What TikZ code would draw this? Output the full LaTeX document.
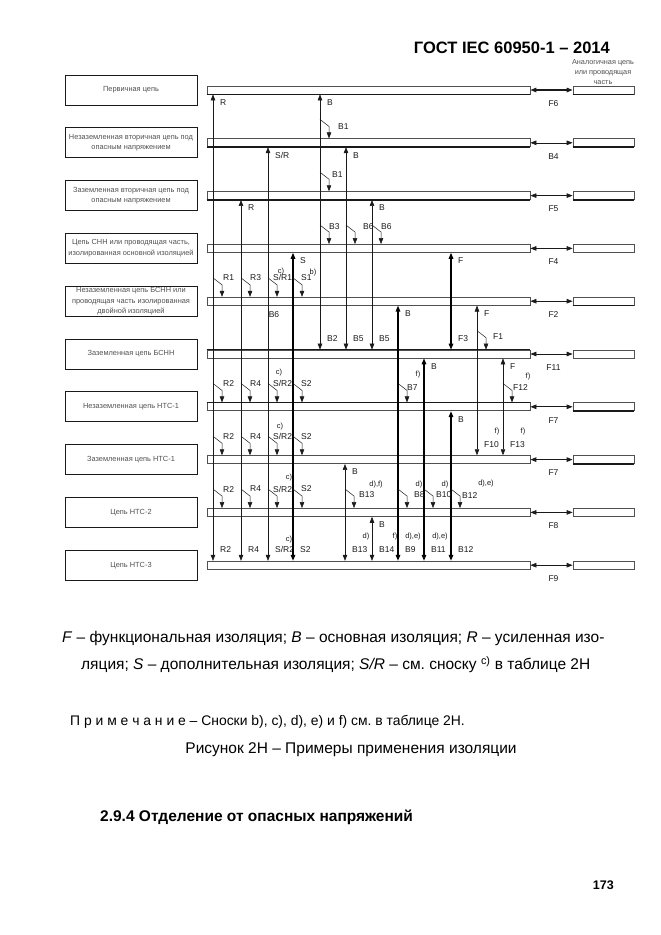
\documentclass[tikz,border=0pt]{standalone}
\usepackage{fontspec}
\setmainfont{Liberation Sans}
\usetikzlibrary{arrows.meta,calc}
\frenchspacing
\definecolor{InkDark}{HTML}{1A1A1A}
\definecolor{InkSoft}{HTML}{505050}
\tikzset{
  >={Triangle[length=6pt,width=4.5pt]},
  circuit/.style={draw=InkDark,line width=0.8pt,minimum width=132pt,minimum height=30pt,
    inner sep=1pt,align=center,font=\fontsize{7.4}{10.5}\selectfont,text=InkSoft},
  bar/.style={draw=InkSoft,line width=0.7pt,minimum width=323pt,minimum height=8pt,inner sep=0pt},
  twin/.style={bar,minimum width=61pt},
  heavy/.style={draw=InkDark,line width=1.4pt},
  iso/.style={<->,draw=InkDark,line width=0.6pt},
  isoheavy/.style={<->,draw=black,line width=1.4pt},
  lead/.style={->,draw=InkDark,line width=0.5pt},
  gap/.style={<->,draw=InkDark,line width=0.7pt},
  lbl/.style={font=\fontsize{8.5}{9}\selectfont,inner sep=0pt,text=InkDark},
  note/.style={font=\fontsize{7.5}{8}\selectfont,inner sep=0pt,text=InkDark},
  body/.style={font=\fontsize{15.5}{18}\selectfont,inner sep=0pt,anchor=west}
}
\begin{document}
\begin{tikzpicture}[x=1pt,y=-1pt]
  \useasboundingbox (0,0) rectangle (661,935);
  \node[font=\bfseries\fontsize{16.5}{18}\selectfont,anchor=east,inner sep=0pt] (header) at (610,48) {ГОСТ IEC 60950-1 – 2014};
  \node[font=\fontsize{7.3}{10}\selectfont,align=center,text=InkSoft,inner sep=0pt] (twinnote) at (603,72) {Аналогичная цепь\\или проводящая\\часть};
  \foreach \i/\gap/\w/\txt in {1/F6/1.3/{Первичная цепь},
      2/B4/0.6/{Незаземленная вторичная цепь под\\опасным напряжением},
      3/F5/0.7/{Заземленная вторичная цепь под\\опасным напряжением},
      4/F4/0.7/{Цепь СНН или проводящая часть,\\изолированная основной изоляцией},
      5/F2/0.7/{Незаземленная цепь БСНН или\\проводящая часть изолированная\\двойной изоляцией},
      6/F11/0.7/{Заземленная цепь БСНН},
      7/F7/0.7/{Незаземленная цепь НТС-1},
      8/F7/1.3/{Заземленная цепь НТС-1},
      9/F8/0.7/{Цепь НТС-2},
      10/F9/0.7/{Цепь НТС-3}}{
    \pgfmathsetmacro\yc{90+52.8*(\i-1)}
    \node[circuit] (b\i) at (131,\yc) {\txt};
    \node[bar] (c\i) at (368.5,\yc) {};
    \node[twin] (r\i) at (603.5,\yc) {};
    \draw[gap,line width=\w pt] (c\i.east) -- (r\i.west);
    \node[lbl] (g\i) at ($(c\i.south east)!0.5!(r\i.south west)+(2,9)$) {\gap};
  }
  \foreach \i in {1,2,3}
    \draw[heavy] (c\i.south west) -- (c\i.south east);
  \foreach \i in {1,2,3,5,7,8}
    \draw[heavy] (r\i.south west) -- (r\i.south east);
  \foreach \i in {6,7}
    \draw[heavy] (c\i.north west) -- (c\i.north east);
  \foreach \x/\a/\b/\sty/\toplab/\botlab in {213/1/10/iso/R/R2, 241/3/10/iso/R/R4,
      268/2/10/iso/{S/R}/{S/R2}, 293/4/10/isoheavy/S/S2, 320/1/6/iso/B/B2,
      346/2/6/iso/B/B5, 372/3/6/iso/B/B5, 451/4/6/isoheavy/F/F3,
      477/5/8/iso/F/F10, 503/6/8/iso/F/F13, 398/5/10/isoheavy/B/B9,
      424/6/10/isoheavy/B/B11, 451/7/10/isoheavy/B/B12, 345/8/10/iso/B/B13,
      372/9/10/iso/B/B14}{
    \draw[\sty] (\x,0 |- c\a.south) -- (\x,0 |- c\b.north);
    \node[lbl,anchor=west] (top-\x-\a) at ($(\x,0 |- c\a.south)+(7,8)$) {\toplab};
    \node[lbl,anchor=west] (bot-\x-\b) at ($(\x,0 |- c\b.north)+(7,-11)$) {\botlab};
  }
  \foreach \x/\b/\lab/\dx/\dy in {320/2/B1/18/12, 320/3/B1/12/17, 320/4/B3/9/17,
      346/4/B6/17/17, 372/4/B6/9/17,
      213/5/R1/10/19, 241/5/R3/9/19, 268/5/{S/R1}/5/19, 293/5/S1/8/19,
      477/6/F1/16/13,
      213/7/R2/10/19, 241/7/R4/9/19, 268/7/{S/R2}/5/19, 293/7/S2/8/19,
      398/7/B7/9/15, 503/7/F12/10/15,
      213/8/R2/10/19, 241/8/R4/9/19, 268/8/{S/R2}/5/19, 293/8/S2/8/19,
      213/9/R2/10/19, 241/9/R4/9/19, 268/9/{S/R2}/5/19, 293/9/S2/8/19,
      345/9/B13/14/13, 398/9/B8/16/13, 424/9/B10/12/13, 451/9/B12/11/13}{
    \draw[lead] (\x,0 |- c\b.north) ++(0,-19) -- ++(9,7) -- ++(0,12);
    \node[lbl,anchor=west] (lead-\x-\b) at ($(\x,0 |- c\b.north)+(\dx,-\dy)$) {\lab};
  }
  \foreach \x/\y/\t in {281/272/c), 313/273/b), 279/373/c), 418/375/f), 528/377/f),
      280/427/c), 497/432/f), 523/432/f), 289/478/c), 376/485/{d),f)}, 419/485/d),
      445/485/d), 486/484/{d),e)}, 289/540/c), 366/537/d), 395/537/f),
      413/537/{d),e)}, 440/537/{d),e)}}
    \node[note] (note-\x-\y) at (\x,\y) {\t};
  \node[lbl] (stray) at (274,315) {B6};
  \node[body] (legend1) at (62,638) {\textit{F} – функциональная изоляция; \textit{B} – основная изоляция; \textit{R} – усиленная изо-};
  \node[body] (legend2) at (81,665) {ляция; \textit{S} – дополнительная изоляция; \textit{S/R} – см. сноску \textsuperscript{c)} в таблице 2Н};
  \node[body,font=\fontsize{13.9}{16}\selectfont] (remark) at (70,722) {П р и м е ч а н и е – Сноски b), c), d), e) и f) см. в таблице 2Н.};
  \node[body,anchor=center] (figcap) at (351,750) {Рисунок 2Н – Примеры применения изоляции};
  \node[body,font=\bfseries\fontsize{15.5}{18}\selectfont] (section) at (100,817) {2.9.4 Отделение от опасных напряжений};
  \node[font=\bfseries\fontsize{12.5}{15}\selectfont,anchor=east,inner sep=0pt] (pageno) at (614,885) {173};
\end{tikzpicture}
\end{document}
